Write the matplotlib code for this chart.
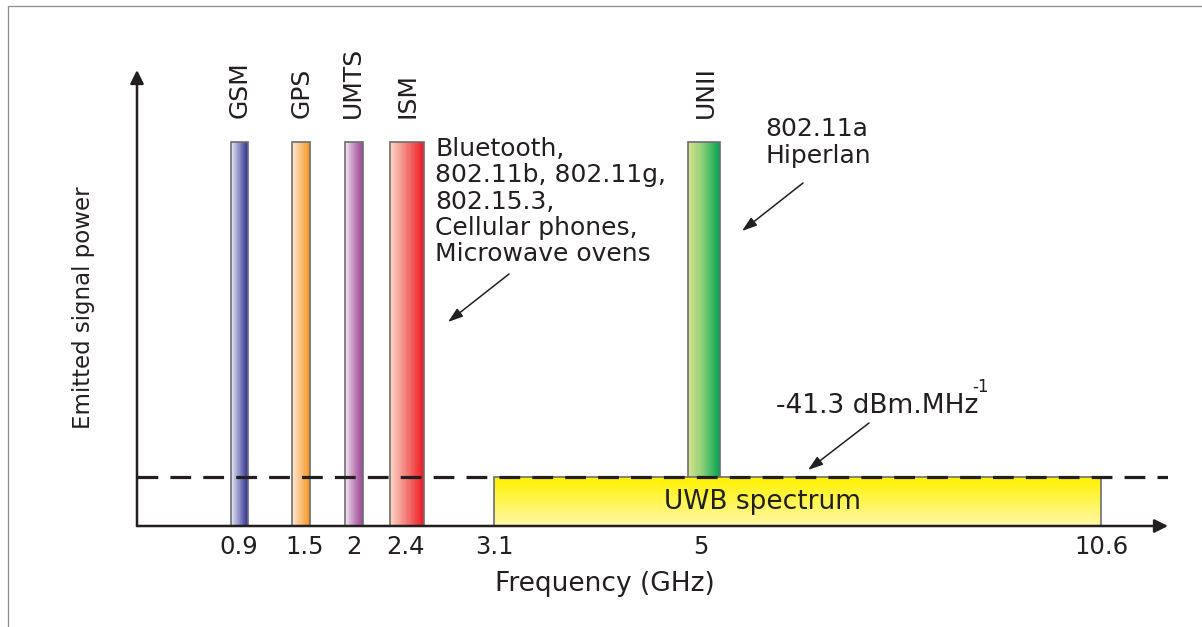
import numpy as np
import matplotlib
matplotlib.use('Agg')
import matplotlib.pyplot as plt
from matplotlib.colors import LinearSegmentedColormap
from matplotlib.patches import Rectangle

# narrow-band systems (GHz edges as drawn in the sketch)
band_names = ['GSM', 'GPS', 'UMTS', 'ISM', 'UNII']
band_lo = [0.83, 1.38, 1.91, 2.28, 4.88]
band_hi = [0.98, 1.55, 2.07, 2.54, 5.27]
band_light = ['#e6e6f5', '#fde8d6', '#f4e6f1', '#fbd3c4', '#d6e38c']
band_dark = ['#2e3192', '#f7941d', '#9b4592', '#ed1c24', '#00a651']
band_power = 8.42          # relative emitted power (schematic)

# UWB mask
uwb_lo, uwb_hi = 3.1, 10.6
uwb_power = 1.07           # -41.3 dBm/MHz level
uwb_top, uwb_bottom = '#fff200', '#fff8a6'

tick_freqs = [0.9, 1.5, 2, 2.4, 3.1, 5, 10.6]
tick_labels = ['0.9', '1.5', '2', '2.4', '3.1', '5', '10.6']

# the sketch's frequency axis is not linear: piecewise map GHz -> axis position
axis_freq = [0, 0.9, 1.5, 2, 2.4, 3.1, 5, 10.6, 11.6]
axis_pos = [0, 102, 168, 217, 269, 357, 564, 964, 1031]

ink = '#231f20'
edge = '#6d6e71'
W, H = 1202, 627


def px(x, y):
    # pixel position (from top-left) -> figure fraction
    return x / W, 1 - y / H


fig = plt.figure(figsize=(W / 100, H / 100), dpi=100)
ax = fig.add_axes([137 / W, 1 - 526 / H, 1031 / W, 456 / H])
ax.set_xscale('function', functions=(lambda f: np.interp(f, axis_freq, axis_pos),
                                     lambda p: np.interp(p, axis_pos, axis_freq)))
ax.set_xlim(axis_freq[0], axis_freq[-1])
ax.set_ylim(0, 10)
for s in ax.spines.values():
    s.set_visible(False)
ax.set_yticks([])
ax.set_xticks(tick_freqs, labels=tick_labels)
ax.tick_params(axis='x', length=0, pad=6.5, labelsize=17.5, labelcolor=ink)

# gradient bars for each band
n = 40
for name, lo, hi, c0, c1 in zip(band_names, band_lo, band_hi, band_light, band_dark):
    cmap = LinearSegmentedColormap.from_list(name, [c0, c1])
    edges = np.linspace(lo, hi, n + 1)
    ax.bar(edges[:-1], band_power, width=np.diff(edges), align='edge',
           color=cmap(np.linspace(0, 1, n)), linewidth=0, antialiased=False, zorder=2)
    ax.bar(lo, band_power, width=hi - lo, align='edge', fill=False,
           edgecolor=edge, linewidth=1.2, zorder=3)
    ax.text((lo + hi) / 2, 8.95, name, rotation=90, ha='center', va='bottom',
            fontsize=18, color=ink)

# UWB block, vertical gradient
uwb_cmap = LinearSegmentedColormap.from_list('uwb', [uwb_bottom, uwb_top])
ys = np.linspace(0, uwb_power, n + 1)
ax.bar(uwb_lo, np.diff(ys), width=uwb_hi - uwb_lo, bottom=ys[:-1], align='edge',
       color=uwb_cmap(np.linspace(0, 1, n)), linewidth=0, antialiased=False, zorder=4)
ax.bar(uwb_lo, uwb_power, width=uwb_hi - uwb_lo, align='edge', fill=False,
       edgecolor=edge, linewidth=1.2, zorder=4)

# FCC limit line
ax.axhline(uwb_power, color=ink, lw=2.3, dashes=(6.5, 3.8), zorder=5)

# axes as arrows
axis_arrow = dict(arrowstyle='-|>', color=ink, lw=1.8, mutation_scale=20,
                  shrinkA=0, shrinkB=0)
ax.annotate('', xy=(0, 1), xytext=(0, 0), xycoords='axes fraction',
            arrowprops=axis_arrow, zorder=6)
ax.annotate('', xy=(1, 0), xytext=(0, 0), xycoords='axes fraction',
            arrowprops=axis_arrow, zorder=6)

# labels
fig.text(*px(84, 308), 'Emitted signal power', rotation=90, ha='center', va='center',
         fontsize=16.5, color=ink)
fig.text(*px(605, 584), 'Frequency (GHz)', ha='center', va='center', fontsize=19, color=ink)
fig.text(*px(763, 502), 'UWB spectrum', ha='center', va='center', fontsize=19,
         color=ink, zorder=7)

fig.text(*px(435, 137), 'Bluetooth,\n802.11b, 802.11g,\n802.15.3,\nCellular phones,\nMicrowave ovens',
         ha='left', va='top', fontsize=18, linespacing=1.12, color=ink)
fig.text(*px(765, 117), '802.11a\nHiperlan', ha='left', va='top', fontsize=18,
         linespacing=1.17, color=ink)
fig.text(*px(776, 413), '-41.3 dBm.MHz', ha='left', va='baseline', fontsize=19, color=ink)
fig.text(*px(972, 392), '-1', ha='left', va='baseline', fontsize=12, color=ink)

# pointer arrows
pointer = dict(arrowstyle='-|>,head_length=0.6,head_width=0.2', color=ink, lw=1.1,
               mutation_scale=15, shrinkA=0, shrinkB=0)
for start, tip in [((509, 274), (448, 322)), ((803, 183), (742, 231)), ((869, 423), (808, 470))]:
    ax.annotate('', xy=px(*tip), xytext=px(*start), xycoords='figure fraction',
                arrowprops=pointer)

# frame (only top and left edges fall inside the picture)
fig.patches.append(Rectangle((8 / W, -0.5), 2, 1 - 6 / H + 0.5, transform=fig.transFigure,
                             fill=False, edgecolor='#8c8c8c', linewidth=0.9))

fig.savefig('out.png', dpi=100)
